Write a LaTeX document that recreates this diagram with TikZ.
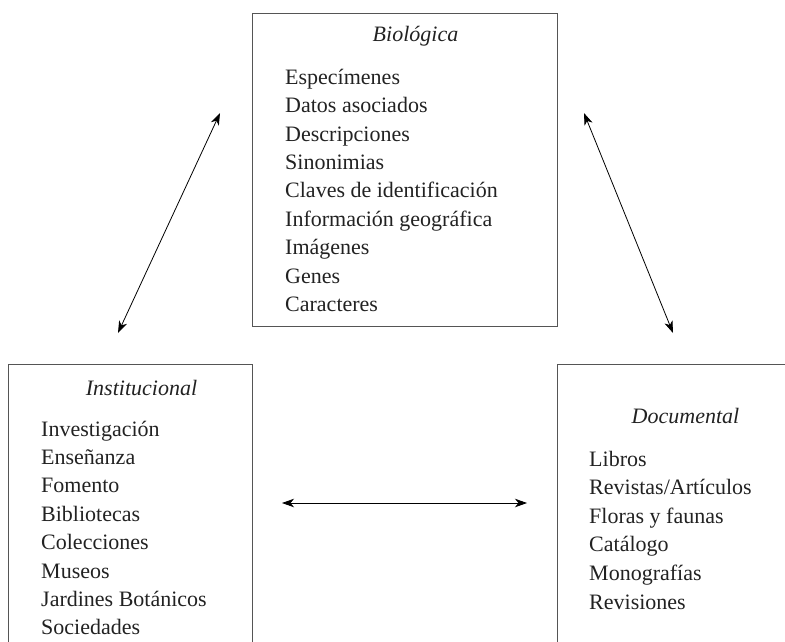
\documentclass[tikz,border=0pt]{standalone}
\usepackage{fontspec}
\setmainfont{Liberation Serif}
\usetikzlibrary{arrows.meta,positioning}
\definecolor{boxgray}{HTML}{555555}
\definecolor{ink}{HTML}{222222}

\begin{document}
\begin{tikzpicture}[x=1pt,y=-1pt,
    caja/.style={draw=boxgray,line width=1.4pt,inner sep=0pt,anchor=north west},
    titulo/.style={font=\itshape\fontsize{22}{28.4}\selectfont,text=ink,anchor=base,inner sep=0pt},
    lista/.style={font=\fontsize{22}{28.4}\selectfont,text=ink,anchor=base west,inner sep=0pt},
    flecha/.style={{Stealth[length=12pt,width=8.5pt,inset=3.5pt]}-{Stealth[length=12pt,width=8.5pt,inset=3.5pt]},line width=0.8pt}]
    \useasboundingbox (0,0) rectangle (785,641);
    \clip (0,0) rectangle (785,641);
    % cajas
    \node[caja,minimum width=305pt,minimum height=313pt] (bio) at (252,13) {};
    \node[caja,minimum width=244pt,minimum height=300pt] (inst) at (8,364) {};
    \node[caja,minimum width=260pt,minimum height=300pt] (doc) at (557,364) {};
    % titulos
    \node[titulo] (bio-t) at (415.5,41) {Biológica};
    \node[titulo] (inst-t) at (141.5,395) {Institucional};
    \node[titulo] (doc-t) at (685.5,423) {Documental};
    % listas
    \foreach \t [count=\i from 0] in {Especímenes,Datos asociados,Descripciones,Sinonimias,Claves de identificación,Información geográfica,Imágenes,Genes,Caracteres}
        \node[lista] (bio-\i) at (285,{84.3+28.4*\i}) {\t};
    \foreach \t [count=\i from 0] in {Investigación,Enseñanza,Fomento,Bibliotecas,Colecciones,Museos,Jardines Botánicos,Sociedades}
        \node[lista] (inst-\i) at (41,{436+28.4*\i}) {\t};
    \foreach \t [count=\i from 0] in {Libros,Revistas/Artículos,Floras y faunas,Catálogo,Monografías,Revisiones}
        \node[lista] (doc-\i) at (589,{466+28.6*\i}) {\t};
    % flechas
    \coordinate (bi-a) at (220,113);
    \coordinate (bi-b) at (118,333);
    \coordinate (bd-a) at (584,113);
    \coordinate (bd-b) at (673,333);
    \coordinate (id-a) at (282,503);
    \coordinate (id-b) at (527,503);
    \draw[flecha] (bi-a) -- (bi-b);
    \draw[flecha] (bd-a) -- (bd-b);
    \draw[flecha] (id-a) -- (id-b);
\end{tikzpicture}
\end{document}
